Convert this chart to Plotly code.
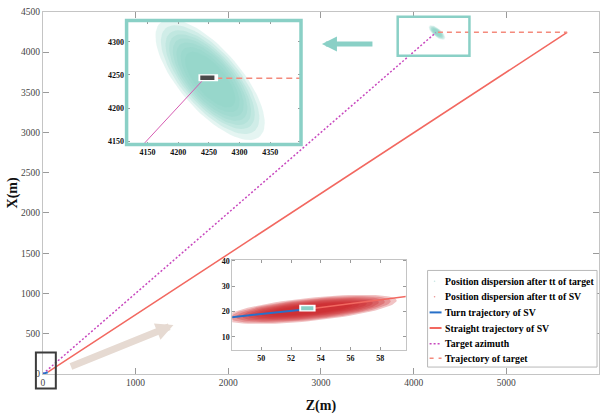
import numpy as np
import plotly.graph_objects as go

W, H = 607, 415


def px(x):
    return x / W


def py(y):
    return 1 - y / H


# ---- trajectories (metres): Z along the horizontal axis, X along the vertical ----
turn_z = [0, 12, 24, 36, 48, 53.2]
turn_x = [0, 3.2, 7.0, 11.8, 17.7, 21.0]
straight_z = [53.2, 5656]
straight_x = [21.0, 4245]
azimuth_z = [0, 4240]
azimuth_x = [0, 4242]
target_z = [4262, 5656]
target_x = [4245, 4245]

# ---- dispersion clouds: centre and density layers (semi-major, semi-minor) ----
target_centre = (4252, 4243)
target_angle_deg = -46
target_layers = [(118, 48), (106, 44), (96, 40), (88, 37), (80, 34), (72, 31), (63, 27), (54, 23)]
target_layer_opacity = 0.22
sv_centre = (53.3, 20.8)
sv_slope = 0.6
sv_layers = [(5.8, 4.6), (5.4, 4.2), (5.0, 3.8), (4.6, 3.4), (4.2, 3.0), (3.8, 2.6), (3.3, 2.2), (2.8, 1.8)]
sv_layer_opacity = 0.27

# ---- tick values ----
main_z_ticks = [0, 1000, 2000, 3000, 4000, 5000, 6000]
main_x_ticks = [0, 500, 1000, 1500, 2000, 2500, 3000, 3500, 4000, 4500]
zoom_t_z_ticks = [4150, 4200, 4250, 4300, 4350]
zoom_t_x_ticks = [4150, 4200, 4250, 4300]
zoom_s_z_ticks = [50, 52, 54, 56, 58]
zoom_s_x_ticks = [10, 20, 30, 40]

legend_labels = [
    "Position dispersion after tt of target",
    "Position dispersion after tt of SV",
    "Turn trajectory of SV",
    "Straight trajectory of SV",
    "Target azimuth",
    "Trajectory of target",
]

TEAL = "rgb(138,208,198)"
SV_RED = "rgb(205,32,36)"
BLUE = "rgb(40,112,200)"
SALMON = "rgb(242,104,96)"
MAGENTA = "rgb(200,72,190)"
DASH_SALMON = "rgb(244,138,124)"
SERIF = "Liberation Serif"


def ellipse(cx, cy, a, b, ang_deg, n=80):
    t = np.linspace(0, 2 * np.pi, n)
    th = np.radians(ang_deg)
    x = cx + a * np.cos(t) * np.cos(th) - b * np.sin(t) * np.sin(th)
    y = cy + a * np.cos(t) * np.sin(th) + b * np.sin(t) * np.cos(th)
    return x, y


def sheared_ellipse(cx, cy, a, b, slope, n=80):
    t = np.linspace(0, 2 * np.pi, n)
    x = cx + a * np.cos(t)
    y = cy + slope * a * np.cos(t) + b * np.sin(t)
    return x, y


fig = go.Figure()


def add_target_cloud(xa, ya):
    for a, b in target_layers:
        ex, ey = ellipse(*target_centre, a, b, target_angle_deg)
        fig.add_trace(go.Scatter(x=ex, y=ey, mode="lines", fill="toself",
                                 fillcolor=TEAL, opacity=target_layer_opacity,
                                 line=dict(width=0), xaxis=xa, yaxis=ya,
                                 showlegend=False, hoverinfo="skip"))


# ---- main axes ----
add_target_cloud("x", "y")
fig.add_trace(go.Scatter(x=azimuth_z, y=azimuth_x, mode="lines",
                         line=dict(color=MAGENTA, width=1.5, dash="2px,2px"), showlegend=False))
fig.add_trace(go.Scatter(x=straight_z, y=straight_x, mode="lines",
                         line=dict(color=SALMON, width=1.5), showlegend=False))
fig.add_trace(go.Scatter(x=target_z, y=target_x, mode="lines",
                         line=dict(color=DASH_SALMON, width=1.5, dash="5px,4px"), showlegend=False))
fig.add_trace(go.Scatter(x=turn_z, y=turn_x, mode="lines",
                         line=dict(color=BLUE, width=2), showlegend=False))

# ---- zoom on the target ----
add_target_cloud("x2", "y2")
fig.add_trace(go.Scatter(x=azimuth_z, y=azimuth_x, mode="lines", xaxis="x2", yaxis="y2",
                         line=dict(color="rgb(214,92,178)", width=1), showlegend=False))
fig.add_trace(go.Scatter(x=target_z, y=target_x, mode="lines", xaxis="x2", yaxis="y2",
                         line=dict(color=DASH_SALMON, width=1.5, dash="6px,4px"), showlegend=False))

# ---- zoom on the SV start ----
for a, b in sv_layers:
    ex, ey = sheared_ellipse(*sv_centre, a, b, sv_slope)
    fig.add_trace(go.Scatter(x=ex, y=ey, mode="lines", fill="toself", fillcolor=SV_RED,
                             opacity=sv_layer_opacity, line=dict(width=0),
                             xaxis="x3", yaxis="y3", showlegend=False, hoverinfo="skip"))
fig.add_trace(go.Scatter(x=turn_z, y=turn_x, mode="lines", xaxis="x3", yaxis="y3",
                         line=dict(color=BLUE, width=2), showlegend=False))
fig.add_trace(go.Scatter(x=straight_z, y=straight_x, mode="lines", xaxis="x3", yaxis="y3",
                         line=dict(color=SALMON, width=1.5), showlegend=False))

tick_main = dict(family=SERIF, size=9.5, color="#444")
tick_zoom = dict(family=SERIF, size=8, color="#111", weight="bold")
title_font = dict(family=SERIF, size=14, color="#111", weight="bold")

common_main = dict(showgrid=False, zeroline=False, showline=True, linecolor="#c4c4c4",
                   linewidth=1, mirror="ticks", ticks="inside", ticklen=6,
                   tickcolor="#9a9a9a", tickfont=tick_main)
common_zoom = dict(showgrid=False, zeroline=False, showline=True, linecolor="#c4c4c4",
                   linewidth=1, mirror="ticks", ticks="inside", ticklen=3,
                   tickcolor="#9a9a9a", tickfont=tick_zoom)

fig.update_layout(
    width=W, height=H,
    margin=dict(l=0, r=0, t=0, b=0),
    paper_bgcolor="white", plot_bgcolor="white",
    font=dict(family=SERIF),
    showlegend=False,
    xaxis=dict(domain=[px(41), px(599)], range=[0, 6000], tickvals=main_z_ticks,
               title=dict(text="Z(m)", font=title_font, standoff=12), **common_main),
    yaxis=dict(domain=[py(378), py(7)], range=[0, 4500], tickvals=main_x_ticks,
               title=dict(text="X(m)", font=title_font, standoff=0), **common_main),
    xaxis2=dict(domain=[px(125), px(300)], range=[4116, 4400], tickvals=zoom_t_z_ticks,
                anchor="y2", **common_zoom),
    yaxis2=dict(domain=[py(143), py(16)], range=[4145, 4332], tickvals=zoom_t_x_ticks,
                anchor="x2", **common_zoom),
    xaxis3=dict(domain=[px(231), px(405)], range=[48.05, 59.7], tickvals=zoom_s_z_ticks,
                anchor="y3", **common_zoom),
    yaxis3=dict(domain=[py(354), py(261)], range=[4.6, 40.4], tickvals=zoom_s_x_ticks,
                anchor="x3", **common_zoom),
)

shapes = []
# vehicle icons
shapes.append(dict(type="rect", xref="x2", yref="y2", x0=4233, x1=4265, y0=4240.5, y1=4251,
                   fillcolor="white", line=dict(width=0)))
shapes.append(dict(type="rect", xref="x2", yref="y2", x0=4236, x1=4259, y0=4242.5, y1=4249,
                   fillcolor="#4a4a4a", line=dict(width=0)))
shapes.append(dict(type="rect", xref="x3", yref="y3", x0=52.55, x1=53.65, y0=20.0, y1=22.6,
                   fillcolor="white", line=dict(width=0)))
shapes.append(dict(type="rect", xref="x3", yref="y3", x0=52.68, x1=53.5, y0=20.5, y1=22.0,
                   fillcolor=TEAL, line=dict(width=0)))
# frame around the target zoom and its marker on the main axes
shapes.append(dict(type="rect", xref="paper", yref="paper", x0=px(125), x1=px(300),
                   y0=py(143), y1=py(16), line=dict(color=TEAL, width=3.5)))
shapes.append(dict(type="rect", xref="x", yref="y", x0=3828, x1=4602, y0=3954, y1=4439,
                   line=dict(color=TEAL, width=2.5)))
# frame around the origin
shapes.append(dict(type="rect", xref="paper", yref="paper", x0=px(34), x1=px(54),
                   y0=py(393), y1=py(356), line=dict(color="#3c3c3c", width=2)))

# legend box
shapes.append(dict(type="rect", xref="paper", yref="paper", x0=px(427), x1=px(597),
                   y0=py(371), y1=py(272), fillcolor="white", line=dict(color="#b8b8b8", width=1)))
rows = [283, 299, 315, 331, 347, 362]
shapes.append(dict(type="circle", xref="paper", yref="paper", x0=px(433.2), x1=px(434.8),
                   y0=py(rows[0] + 0.8), y1=py(rows[0] - 0.8), fillcolor="rgb(200,230,226)",
                   line=dict(width=0)))
shapes.append(dict(type="circle", xref="paper", yref="paper", x0=px(433.2), x1=px(434.8),
                   y0=py(rows[1] + 0.8), y1=py(rows[1] - 0.8), fillcolor="rgb(236,150,150)",
                   line=dict(width=0)))
legend_lines = [(rows[2], BLUE, "solid", 2), (rows[3], SALMON, "solid", 2),
                (rows[4], MAGENTA, "2px,2px", 1.5), (rows[5], DASH_SALMON, "4px,5px", 1.5)]
for yy, col, dash, w in legend_lines:
    shapes.append(dict(type="line", xref="paper", yref="paper", x0=px(429), x1=px(441),
                       y0=py(yy), y1=py(yy), line=dict(color=col, width=w, dash=dash)))
fig.update_layout(shapes=shapes)

annotations = []
for yy, lab in zip(rows, legend_labels):
    annotations.append(dict(xref="paper", yref="paper", x=px(442), y=py(yy), text=lab,
                            showarrow=False, xanchor="left", yanchor="middle",
                            font=dict(family=SERIF, size=9.8, color="#000", weight="bold")))
# pointer arrows to the zoomed views
annotations.append(dict(xref="paper", yref="paper", x=px(321), y=py(40), text="",
                        showarrow=True, axref="pixel", ayref="pixel", ax=52, ay=0,
                        arrowhead=2, arrowsize=0.6, arrowwidth=5, arrowcolor=TEAL))
annotations.append(dict(xref="paper", yref="paper", x=px(172), y=py(328), text="",
                        showarrow=True, axref="pixel", ayref="pixel", ax=-104, ay=42,
                        arrowhead=2, arrowsize=0.5, arrowwidth=7, arrowcolor="rgb(230,218,210)"))
fig.update_layout(annotations=annotations)

fig.write_html("out.html")
